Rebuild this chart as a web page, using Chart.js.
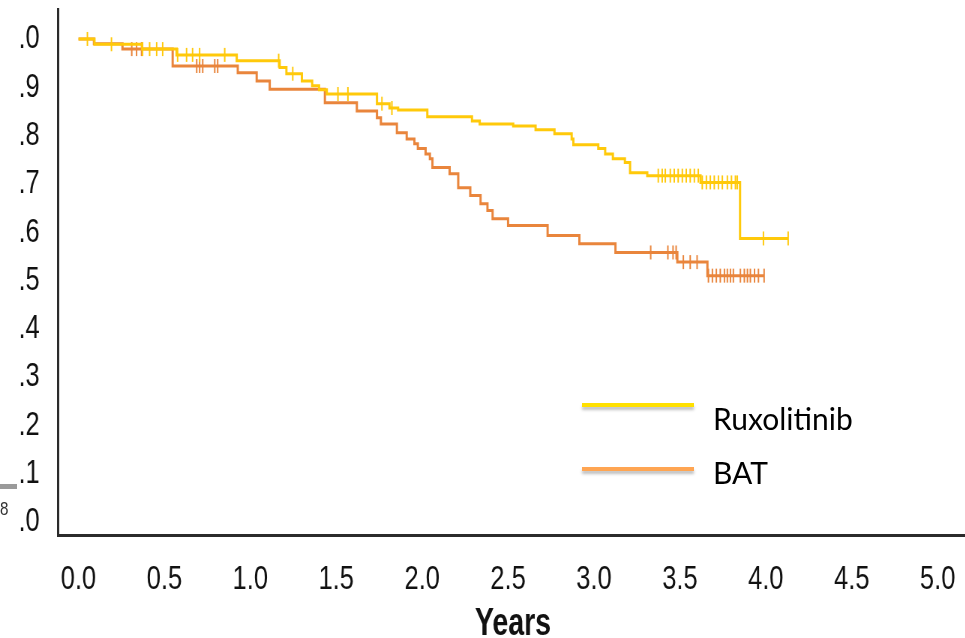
<!DOCTYPE html>
<html>
<head>
<meta charset="utf-8">
<script src="https://cdn.jsdelivr.net/npm/chart.js@4.4.0/dist/chart.umd.min.js"></script>
<style>
  html, body { margin: 0; padding: 0; background: #fff; }
  #wrap { position: relative; width: 965px; height: 638px; overflow: hidden; }
  /* the reference uses a condensed face: draw wider, squeeze horizontally */
  #squeeze { position: absolute; left: 0; top: 0; width: 1300px; height: 638px; transform: scaleX(0.75); transform-origin: 0 0; }
  .key-line { position: absolute; width: 112px; height: 4px; box-shadow: 0 3px 3px rgba(0, 0, 0, 0.25); }
  .key-text { position: absolute; font-family: 'Lato', 'Open Sans', sans-serif; font-size: 30px; color: #000; line-height: 1; }
  .stray-bar { position: absolute; left: 0; top: 484px; width: 17px; height: 5px; background: #9a9a9a; }
  .stray-num { position: absolute; left: 0; top: 499px; font-family: 'Liberation Sans', sans-serif; font-size: 19px; color: #333; line-height: 1; transform: scaleX(0.8); transform-origin: 0 0; }
</style>
</head>
<body>
<div id="wrap">
  <div id="squeeze"><canvas id="km-chart" width="1300" height="638"></canvas></div>
  <div class="key-line" style="left:582px; top:403px; background:#FFE000;"></div>
  <div class="key-text" style="left:713px; top:403px;">Ruxolitinib</div>
  <div class="key-line" style="left:582px; top:467px; background:#FFA552;"></div>
  <div class="key-text" style="left:713px; top:457px;">BAT</div>
  <div class="stray-bar"></div>
  <div class="stray-num">8</div>
</div>
<script>
// Kaplan-Meier curves

const ruxTimes = [0, 0.093, 0.37, 0.571, 0.921, 1.171, 1.21, 1.30, 1.36, 1.40, 1.445, 1.737, 1.81, 1.86, 2.03, 2.29, 2.335, 2.53, 2.66, 2.77, 2.87, 2.88, 3.025, 3.065, 3.11, 3.18, 3.21, 3.31, 3.62, 3.85, 4.13];
const ruxSurvival = [1.0, 0.989, 0.979, 0.967, 0.955, 0.941, 0.928, 0.913, 0.903, 0.895, 0.886, 0.866, 0.857, 0.853, 0.839, 0.830, 0.824, 0.820, 0.812, 0.804, 0.793, 0.781, 0.773, 0.762, 0.752, 0.744, 0.723, 0.717, 0.703, 0.587, 0.587];
const ruxCensored = [0.052, 0.192, 0.373, 0.414, 0.455, 0.49, 0.577, 0.629, 0.664, 0.705, 0.851, 1.165, 1.247, 1.51, 1.568, 1.766, 1.824,
    3.374, 3.397, 3.415, 3.444, 3.467, 3.49, 3.514, 3.537, 3.56, 3.584, 3.607,
    3.63, 3.654, 3.677, 3.70, 3.724, 3.747, 3.776, 3.80, 3.823, 3.834, 3.986, 4.13];

const batTimes = [0, 0.09, 0.256, 0.548, 0.927, 1.037, 1.113, 1.434, 1.62, 1.737, 1.76, 1.853, 1.91, 1.955, 1.975, 2.02, 2.045, 2.06, 2.16, 2.21, 2.28, 2.34, 2.38, 2.41, 2.50, 2.73, 2.915, 3.125, 3.485, 3.66, 3.99];
const batSurvival = [1.0, 0.99, 0.979, 0.944, 0.930, 0.913, 0.896, 0.868, 0.851, 0.837, 0.824, 0.806, 0.793, 0.783, 0.773, 0.762, 0.752, 0.734, 0.721, 0.692, 0.676, 0.659, 0.645, 0.628, 0.614, 0.593, 0.576, 0.558, 0.538, 0.510, 0.510];
const batCensored = [0.31, 0.338, 0.367, 0.688, 0.705, 0.723, 0.793, 0.81,
    3.33, 3.43, 3.46, 3.478, 3.52, 3.56, 3.60,
    3.666, 3.689, 3.712, 3.735, 3.759, 3.776, 3.794, 3.811, 3.852, 3.875, 3.893, 3.91, 3.934, 3.957, 3.99];

const xTickValues = [0, 0.5, 1, 1.5, 2, 2.5, 3, 3.5, 4, 4.5, 5];
const xTickLabels = ['0.0', '0.5', '1.0', '1.5', '2.0', '2.5', '3.0', '3.5', '4.0', '4.5', '5.0'];
const yTickValues = [0, 0.1, 0.2, 0.3, 0.4, 0.5, 0.6, 0.7, 0.8, 0.9, 1.0];
const yTickLabels = ['.0', '.1', '.2', '.3', '.4', '.5', '.6', '.7', '.8', '.9', '.0'];

const ruxColor = '#FFC90A';
const batColor = '#E9853C';
const tickFont = { family: "'Liberation Sans', Arial, sans-serif", size: 34 };

function toPoints(times, values) {
    return times.map((t, i) => ({ x: t, y: values[i] }));
}

// survival value of the step curve at time t (for placing censor ticks)
function survivalAt(times, values, t) {
    let s = values[0];
    for (let i = 0; i < times.length; i++) {
        if (times[i] <= t) s = values[i];
    }
    return s;
}

function censorPoints(times, values, censored) {
    return censored.map(t => ({ x: t, y: survivalAt(times, values, t) }));
}

const ctx = document.getElementById('km-chart').getContext('2d');
const kmChart = new Chart(ctx, {
    type: 'line',
    data: {
        datasets: [{
            label: 'Ruxolitinib',
            data: toPoints(ruxTimes, ruxSurvival),
            borderColor: ruxColor,
            borderWidth: 3,
            stepped: true,
            pointRadius: 0,
            fill: false,
            order: 1
        }, {
            label: 'Ruxolitinib censored',
            data: censorPoints(ruxTimes, ruxSurvival, ruxCensored),
            showLine: false,
            pointStyle: 'line',
            rotation: 90,
            pointRadius: 7,
            pointBorderWidth: 2,
            pointBorderColor: ruxColor,
            borderColor: ruxColor,
            order: 0
        }, {
            label: 'BAT',
            data: toPoints(batTimes, batSurvival),
            borderColor: batColor,
            borderWidth: 3,
            stepped: true,
            pointRadius: 0,
            fill: false,
            order: 3
        }, {
            label: 'BAT censored',
            data: censorPoints(batTimes, batSurvival, batCensored),
            showLine: false,
            pointStyle: 'line',
            rotation: 90,
            pointRadius: 7,
            pointBorderWidth: 2,
            pointBorderColor: batColor,
            borderColor: batColor,
            order: 2
        }]
    },
    options: {
        responsive: false,
        animation: false,
        layout: { padding: { top: 8, right: 0, left: 0, bottom: 0 } },
        plugins: {
            legend: { display: false },
            tooltip: { enabled: false }
        },
        scales: {
            x: {
                type: 'linear',
                min: -0.1206,
                max: 5.178,
                grid: { display: false, drawTicks: false },
                border: { display: true, color: '#2b2b2b', width: 3 },
                afterBuildTicks: (scale) => { scale.ticks = xTickValues.map(v => ({ value: v })); },
                afterFit: (scale) => {
                    scale.height = 103;
                    scale.paddingLeft = 0;
                    scale.paddingRight = 0;
                },
                ticks: {
                    autoSkip: false,
                    maxRotation: 0,
                    padding: 24,
                    color: '#111',
                    font: tickFont,
                    callback: (value, index) => xTickLabels[index]
                },
                title: {
                    display: true,
                    text: 'Years',
                    color: '#111',
                    padding: { top: 0, bottom: 0 },
                    font: { family: "'Liberation Sans', Arial, sans-serif", size: 38, weight: 'bold', lineHeight: 0.7 }
                }
            },
            y: {
                type: 'linear',
                min: -0.0269,
                max: 1.062,
                grid: { display: false, drawTicks: false },
                border: { display: true, color: '#2b2b2b', width: 3 },
                afterBuildTicks: (scale) => { scale.ticks = yTickValues.map(v => ({ value: v })); },
                afterFit: (scale) => {
                    scale.width = 77;
                    scale.paddingTop = 0;
                    scale.paddingBottom = 0;
                },
                ticks: {
                    autoSkip: false,
                    padding: 24,
                    color: '#111',
                    font: tickFont,
                    callback: (value, index) => yTickLabels[index]
                }
            }
        }
    }
});
</script>
</body>
</html>
